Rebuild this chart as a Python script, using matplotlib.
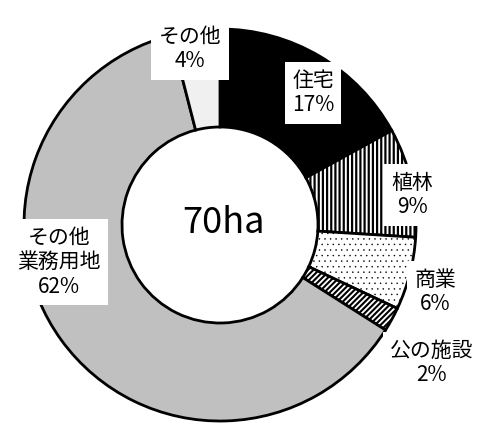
import matplotlib
matplotlib.use('agg')
from matplotlib import pyplot as plt

plt.rcParams['font.family'] = ['Noto Sans CJK JP', 'DejaVu Sans']
plt.rcParams['hatch.linewidth'] = 1.5

labels = ['住宅', '植林', '商業', '公の施設', 'その他\n業務用地', 'その他']
shares = [17, 9, 6, 2, 62, 4]
colors = ['#000000', '#ffffff', '#ffffff', '#ffffff', '#c0c0c0', '#f0f0f0']
hatches = [None, '||||', '...', '//////', None, None]
hatch_lw = [None, 1.6, 0.3, 1.5, None, None]
total_text = '70ha'

# label centres in figure pixels (from top-left)
label_pos = [(313, 93), (412, 195), (435, 292), (432, 363), (59, 262), (190, 49)]

W, H = 486, 428
fig = plt.figure(figsize=(W / 100, H / 100), dpi=100)
cx, cy, R = 220, 225, 198
ax = fig.add_axes([(cx - R) / W, (H - cy - R) / H, 2 * R / W, 2 * R / H])

wedges, _ = ax.pie(shares, colors=colors, startangle=90, counterclock=False,
                   radius=0.99, wedgeprops=dict(width=0.495, edgecolor='black', linewidth=2))
for w, h, lw in zip(wedges, hatches, hatch_lw):
    if h:
        w.set_hatch(h)
        if hasattr(w, 'set_hatch_linewidth'):
            w.set_hatch_linewidth(lw)
        else:
            w._hatch_linewidth = lw
ax.set_xlim(-1, 1)
ax.set_ylim(-1, 1)
ax.axis('off')

ax.text(0.02, 0.01, total_text, ha='center', va='center', fontsize=26)

for lab, s, (px, py) in zip(labels, shares, label_pos):
    fig.text(px / W, 1 - py / H, f'{lab}\n{s}%', ha='center', va='center',
             fontsize=15, linespacing=1.15,
             bbox=dict(boxstyle='square,pad=0.35', facecolor='white', edgecolor='none'))

fig.savefig('out.png', dpi=100, facecolor='white')
